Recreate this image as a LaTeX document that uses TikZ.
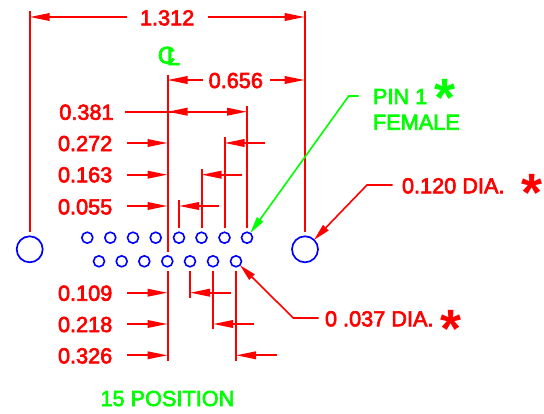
\documentclass[tikz,border=0pt]{standalone}
\usepackage{fontspec}
\setmainfont{Liberation Sans}
\newfontfamily\dimfont[RawFeature={embolden=3}]{Liberation Sans}
\newfontfamily\starfont{Liberation Sans Bold}
\usetikzlibrary{arrows.meta}
\definecolor{cadred}{RGB}{255,0,0}
\definecolor{cadgreen}{RGB}{0,255,0}
\definecolor{cadblue}{RGB}{0,0,255}
\tikzset{
  dimline/.style={draw=cadred,line width=2pt},
  dimarrow/.style={dimline,-{Triangle[length=20pt,width=7.5pt]}},
  leaderred/.style={draw=cadred,line width=1.6pt,-{Triangle[length=17pt,width=7.5pt]}},
  leadergreen/.style={draw=cadgreen,line width=1.6pt,-{Triangle[length=17pt,width=7.5pt]}},
  pin/.style={circle,draw=cadblue,line width=1.6pt,minimum size=11pt,inner sep=0pt,outer sep=0pt},
  bighole/.style={circle,draw=cadblue,line width=1.7pt,minimum size=26pt,inner sep=0pt,outer sep=0pt},
  txt/.style={anchor=base west,inner sep=0pt,outer sep=0pt,font=\dimfont\fontsize{21.7}{24}\selectfont},
  redtxt/.style={txt,text=cadred},
  greentxt/.style={txt,text=cadgreen},
  star/.style={anchor=base,inner sep=0pt,outer sep=0pt,font=\starfont\fontsize{54}{54}\selectfont},
}
\begin{document}
\begin{tikzpicture}[x=1pt,y=-1pt]
\useasboundingbox (0,0) rectangle (544,413);
% holes
\node[bighole] (holeL) at (29.7,249.3) {};
\node[bighole] (holeR) at (305,249.3) {};
\foreach \n/\x in {1/87.3,2/110.3,3/133,4/155.7,5/179,6/201.5,7/224.5,8/247}
  \node[pin] (t\n) at (\x,237.7) {};
\foreach \n/\x in {1/99,2/121.7,3/144.3,4/167.3,5/190,6/213,7/236}
  \node[pin] (b\n) at (\x,261.3) {};
% extension lines
\draw[dimline] (29.7,11) -- (29.7,231.7);
\draw[dimline] (304.7,11) -- (304.7,231.7);
\draw[dimline] (167.5,75) -- (167.5,251.7);
\foreach \x/\y in {247/106,224.5/137,201.5/169,179/200}
  \draw[dimline] (\x,\y) -- (\x,227.7);
\foreach \x/\y in {167.5/361,190/298,213/329.3,236/361}
  \draw[dimline] (\x,270.7) -- (\x,\y);
% overall dimensions
\draw[dimarrow] (127,17) -- (29.7,17);
\draw[dimarrow] (208,17) -- (304.7,17);
\draw[dimarrow] (203,80) -- (167.5,80);
\draw[dimarrow] (270,80) -- (304.7,80);
\draw[dimarrow] (125,111.7) -- (247,111.7);
\draw[dimarrow] (205,111.7) -- (167.5,111.7);
% left-side pitch dimensions
\foreach \y in {143,174.7,206,292.7,324,355.3}
  \draw[dimarrow] (127,\y) -- (167.5,\y);
\draw[dimarrow] (265,143) -- (224.5,143);
\draw[dimarrow] (242,174.7) -- (201.5,174.7);
\draw[dimarrow] (219,206) -- (179,206);
\draw[dimarrow] (231,292.7) -- (190,292.7);
\draw[dimarrow] (253.7,324) -- (213,324);
\draw[dimarrow] (276.7,355.3) -- (236,355.3);
% texts
\node[redtxt] (d1312) at (140,25.3) {1.312};
\node[redtxt] (d656) at (208.7,88) {0.656};
\node[redtxt] (d381) at (59.3,119.7) {0.381};
\node[redtxt] (d272) at (58,151) {0.272};
\node[redtxt] (d163) at (58,182.3) {0.163};
\node[redtxt] (d055) at (58,214.3) {0.055};
\node[redtxt] (d109) at (58,300.7) {0.109};
\node[redtxt] (d218) at (58,332) {0.218};
\node[redtxt] (d326) at (58,363.3) {0.326};
\node[greentxt] (pos) at (100.5,406) {15 POSITION};
\node[greentxt] (pin1) at (373,104) {PIN 1};
\node[greentxt] (fem) at (373,129.7) {FEMALE};
\node[redtxt] (dia120) at (402,193.3) {0.120 DIA.};
\node[redtxt] (dia037) at (325,326.3) {0 .037 DIA.};
\node[star,text=cadgreen] (s1) at (445,116.5) {*};
\node[star,text=cadred] (s2) at (532,211.5) {*};
\node[star,text=cadred] (s3) at (450.7,347) {*};
% centreline symbol
\node[greentxt,anchor=base,font=\dimfont\fontsize{24}{24}\selectfont] (clc) at (166.5,63.5) {C};
\node[greentxt,anchor=base,font=\dimfont\fontsize{24}{24}\selectfont] (cll) at (173.5,65) {L};
% leaders
\coordinate (p1a) at (358.7,96);
\coordinate (p1b) at (348.7,96);
\draw[leadergreen] (p1a) -- (p1b) -- (t8);
\coordinate (d1a) at (392.7,185);
\coordinate (d1b) at (367,185);
\draw[leaderred] (d1a) -- (d1b) -- (holeR);
\coordinate (d2a) at (318.7,318);
\coordinate (d2b) at (293.3,318);
\draw[leaderred] (d2a) -- (d2b) -- (b7);
\end{tikzpicture}
\end{document}
